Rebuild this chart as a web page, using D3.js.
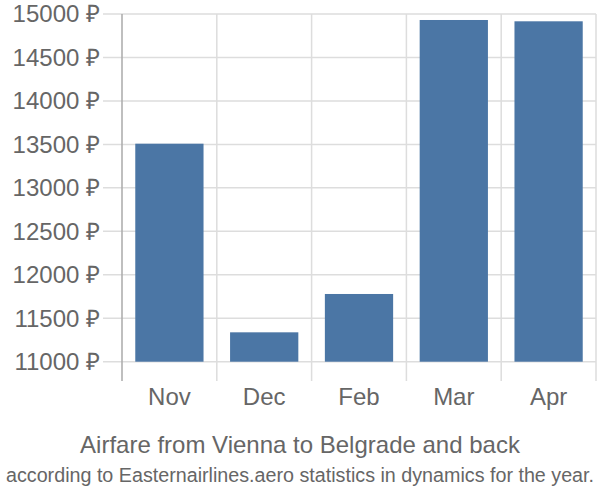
<!DOCTYPE html>
<html><head><meta charset="utf-8">
<script src="https://cdn.jsdelivr.net/npm/d3@7"></script>
<style>body{margin:0;background:#fff}svg{display:block;font-family:"Liberation Sans",Arial,sans-serif}</style>
</head><body><svg id="c" width="600" height="500"></svg>
<script>
const months = ["Nov","Dec","Feb","Mar","Apr"];
const prices = [13508, 11338, 11779, 14931, 14916];
const yTicks = [11000,11500,12000,12500,13000,13500,14000,14500,15000];
const title = "Airfare from Vienna to Belgrade and back";
const subtitle = "according to Easternairlines.aero statistics in dynamics for the year.";

(function(){
const svg = d3.select("#c");
const pLeft = 122, pRight = 596, pTop = 14, pBottom = 361.7, axisBottom = 381;
const x = d3.scaleBand().domain(months).range([pLeft, pRight]);
const y = d3.scaleLinear().domain([11000, 15000]).range([pBottom, pTop]);

svg.append("g").selectAll("line").data(yTicks).join("line")
  .attr("x1", 103).attr("x2", pRight).attr("y1", d => y(d)).attr("y2", d => y(d))
  .attr("stroke", "#ddd").attr("stroke-width", 1.5);
const bounds = months.map(m => x(m)).concat([pRight]);
svg.append("g").selectAll("line").data(bounds.slice(1)).join("line")
  .attr("x1", d => d).attr("x2", d => d).attr("y1", pTop).attr("y2", axisBottom)
  .attr("stroke", "#ddd").attr("stroke-width", 1.5);
svg.append("line").attr("x1", pLeft).attr("x2", pLeft).attr("y1", pTop).attr("y2", axisBottom)
  .attr("stroke", "#aaa").attr("stroke-width", 1.5);

const step = x.bandwidth();
svg.append("g").selectAll("rect").data(months).join("rect")
  .attr("x", d => x(d) + step * 0.14).attr("width", step * 0.72)
  .attr("y", (d, i) => y(prices[i])).attr("height", (d, i) => pBottom - y(prices[i]))
  .attr("fill", "#4b76a5");

svg.append("g").selectAll("text").data(yTicks).join("text")
  .attr("x", 100).attr("y", d => y(d)).attr("dy", "0.35em").attr("text-anchor", "end")
  .attr("font-size", 24).attr("fill", "#666").text(d => d + " \u20BD");

svg.append("g").selectAll("text").data(months).join("text")
  .attr("x", d => x(d) + step / 2).attr("y", 405).attr("text-anchor", "middle")
  .attr("font-size", 24).attr("fill", "#666").text(d => d);

svg.append("text").attr("x", 300).attr("y", 453).attr("text-anchor", "middle")
  .attr("font-size", 24).attr("fill", "#666").text(title);
svg.append("text").attr("x", 300).attr("y", 482).attr("text-anchor", "middle")
  .attr("font-size", 20).attr("fill", "#666")
  .attr("textLength", 588).attr("lengthAdjust", "spacingAndGlyphs").text(subtitle);
})();
</script></body></html>
